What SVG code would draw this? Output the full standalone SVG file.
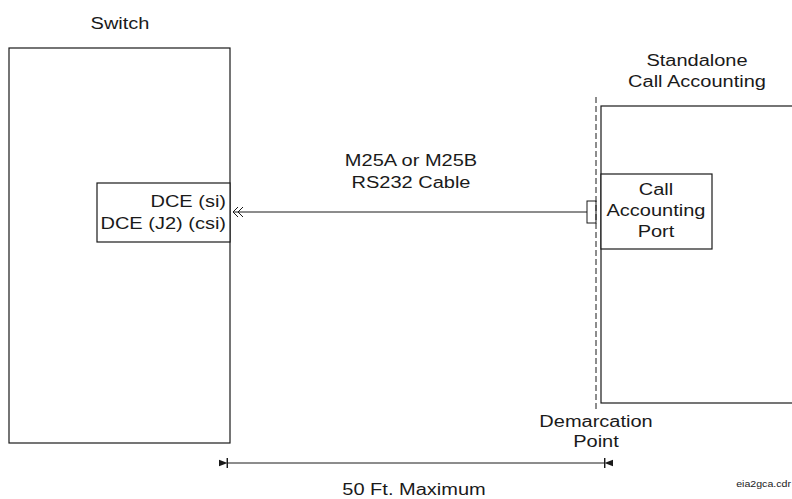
<svg xmlns="http://www.w3.org/2000/svg" width="792" height="499" viewBox="0 0 792 499">
  <style>
    .box { fill: #ffffff; stroke: #1a1a1a; stroke-width: 1.2; }
    .wire { fill: none; stroke: #1a1a1a; stroke-width: 1; }
    .demarc { fill: none; stroke: #1a1a1a; stroke-width: 1; stroke-dasharray: 6 3; }
    .lbl { font-family: "Liberation Sans", Arial, sans-serif; font-size: 16px; fill: #1a1a1a; }
    .mid { text-anchor: middle; }
    .end { text-anchor: end; }
    .tag { font-family: "Liberation Sans", Arial, sans-serif; font-size: 8.5px; fill: #1a1a1a; }
  </style>
  <defs>
    <marker id="dimHead" viewBox="0 0 10 12" refX="0" refY="6" markerWidth="9" markerHeight="10.8" markerUnits="userSpaceOnUse" orient="auto-start-reverse">
      <path d="M0.8,0 L0.8,12" stroke="#1a1a1a" stroke-width="1.6" fill="none"/>
      <path d="M0.5,6 L10,2.5 L10,9.5 Z" fill="#1a1a1a"/>
    </marker>
  </defs>
  <rect width="792" height="499" fill="#ffffff"/>

  <!-- Switch cabinet -->
  <g id="switch">
    <rect class="box" x="9" y="48" width="221" height="395"/>
    <text class="lbl mid" transform="translate(120,29) scale(1.25,1)">Switch</text>
  </g>

  <!-- DCE interface inside the switch -->
  <g id="dce">
    <rect class="box" x="97" y="183" width="133" height="59"/>
    <text class="lbl end" transform="translate(226,207) scale(1.25,1)">DCE (si)</text>
    <text class="lbl end" transform="translate(226,229) scale(1.25,1)">DCE (J2) (csi)</text>
  </g>

  <!-- Standalone call accounting unit -->
  <g id="standalone">
    <rect class="box" x="601" y="106" width="220" height="297"/>
    <text class="lbl mid" transform="translate(697,66) scale(1.25,1)">Standalone</text>
    <text class="lbl mid" transform="translate(697,87) scale(1.25,1)">Call Accounting</text>
  </g>

  <!-- Call accounting port -->
  <g id="port">
    <rect class="box" x="601" y="174" width="111" height="75"/>
    <text class="lbl mid" transform="translate(656,195) scale(1.25,1)">Call</text>
    <text class="lbl mid" transform="translate(656,216) scale(1.25,1)">Accounting</text>
    <text class="lbl mid" transform="translate(656,237) scale(1.25,1)">Port</text>
  </g>

  <!-- Demarcation point -->
  <g id="demarcation">
    <line class="demarc" x1="596" y1="97" x2="596" y2="410"/>
    <text class="lbl mid" transform="translate(596,427) scale(1.25,1)">Demarcation</text>
    <text class="lbl mid" transform="translate(596,447) scale(1.25,1)">Point</text>
  </g>

  <!-- Connectors -->
  <g id="connectors">
    <!-- RS232 cable: plug end at the switch, connector at the demarcation -->
    <line class="wire" x1="233" y1="212" x2="587" y2="212"/>
    <path class="wire" d="M238,207 L233,212 L238,217 M243,207 L238,212 L243,217"/>
    <rect class="wire" x="587" y="201" width="9" height="22"/>
    <text class="lbl mid" transform="translate(411,166) scale(1.25,1)">M25A or M25B</text>
    <text class="lbl mid" transform="translate(411,188) scale(1.25,1)">RS232 Cable</text>

    <!-- Maximum distance dimension -->
    <line class="wire" x1="228" y1="463" x2="604" y2="463" marker-start="url(#dimHead)" marker-end="url(#dimHead)"/>
    <text class="lbl mid" transform="translate(414,495) scale(1.25,1)">50 Ft. Maximum</text>
  </g>

  <text class="tag end" transform="translate(791,487) scale(1.25,1)">eia2gca.cdr</text>
</svg>
